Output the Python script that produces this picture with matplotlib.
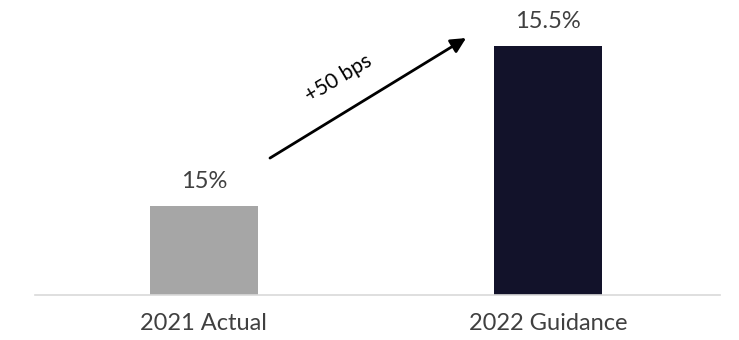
import matplotlib.pyplot as plt

categories = ['2021 Actual', '2022 Guidance']
values = [15.0, 15.5]
value_labels = ['15%', '15.5%']
bar_colors = ['#a6a6a6', '#12122a']
change_label = '+50 bps'


def plot():
    plt.rcParams['font.family'] = ['Lato', 'DejaVu Sans']
    fig = plt.figure(figsize=(7.39, 3.40), dpi=100)
    ax = fig.add_axes([35 / 739, 45 / 340, 685 / 739, 295 / 340])

    base = 14.72
    x = range(len(categories))
    ax.bar(x, [v - base for v in values], bottom=base, width=0.314, color=bar_colors)

    for xi, v, lab in zip(x, values, value_labels):
        ax.annotate(lab, (xi, v), xytext=(0, 10), textcoords='offset points',
                    ha='center', va='bottom', fontsize=17, fontweight='normal', color='#404040')

    ax.set_xlim(-0.491, 1.5)
    ax.set_ylim(base, base + 295 / 319.2)

    ax.annotate('', xy=(0.762, 15.525), xytext=(0.192, 15.149),
                arrowprops=dict(arrowstyle='-|>,head_length=0.9,head_width=0.45',
                                color='black', lw=2, shrinkA=0, shrinkB=0))
    ax.text(0.39, 15.40, change_label, rotation=31, ha='center', va='center',
            fontsize=15, fontweight='normal', color='black')

    for s in ['top', 'right', 'left']:
        ax.spines[s].set_visible(False)
    ax.spines['bottom'].set_color('#d9d9d9')
    ax.spines['bottom'].set_linewidth(1.2)
    ax.set_yticks([])
    ax.set_xticks(list(x))
    ax.set_xticklabels(categories, fontsize=17, fontweight='normal', color='#404040')
    ax.tick_params(axis='x', length=0, pad=13)

    fig.savefig('out.png', dpi=100)


if __name__ == '__main__':
    plot()
